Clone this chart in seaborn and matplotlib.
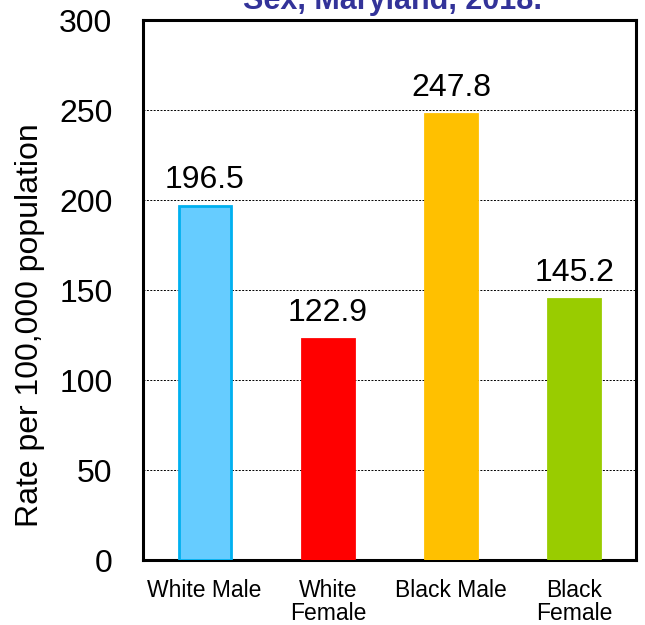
import matplotlib
matplotlib.use("Agg")
import matplotlib.pyplot as plt
import seaborn as sns
import pandas as pd

categories = ["White Male", "White\nFemale", "Black Male", "Black\nFemale"]
values = [196.5, 122.9, 247.8, 145.2]
value_labels = ["196.5", "122.9", "247.8", "145.2"]
colors = ["#66CCFF", "#FF0000", "#FFC000", "#99CC00"]
edge_colors = ["#00B0F0", "#FF0000", "#FFC000", "#99CC00"]
yticks = [0, 50, 100, 150, 200, 250, 300]

sns.set_style("white")
plt.rcParams["font.family"] = ["Liberation Sans", "DejaVu Sans"]
plt.rcParams["text.color"] = "black"
plt.rcParams["xtick.color"] = "black"
plt.rcParams["ytick.color"] = "black"
plt.rcParams["axes.labelcolor"] = "black"

df = pd.DataFrame({"cat": categories, "val": values})

fig = plt.figure(figsize=(6.45, 6.25), dpi=100)
ax = fig.add_axes([143/645, 1-560/625, (636-143)/645, (560-20)/625])

sns.barplot(data=df, x="cat", y="val", hue="cat", palette=colors, legend=False,
            width=0.42, ax=ax, saturation=1)
for patch, ec in zip(ax.patches, edge_colors):
    patch.set_edgecolor(ec)
    patch.set_linewidth(2)
    patch.set_zorder(3)

for i, (v, lab) in enumerate(zip(values, value_labels)):
    ax.text(i, v + 10, lab, ha="center", va="baseline", fontsize=23, color="black")

ax.set_ylim(0, 300)
ax.set_yticks(yticks)
ax.set_yticklabels([str(t) for t in yticks], fontsize=23)
ax.set_xlim(-0.5, 3.5)
ax.tick_params(axis="x", labelsize=16.5, length=0, pad=14)
ax.tick_params(axis="y", length=0, pad=22)
for lab in ax.get_xticklabels():
    lab.set_linespacing(0.95)
ax.set_xlabel("")
ax.set_ylabel("Rate per 100,000 population", fontsize=23)
ax.yaxis.label.set_va("center")
ax.yaxis.set_label_coords((30 - 143) / 493, (560 - 325) / 540)

for t in yticks[1:-1]:
    ax.axhline(t, color="black", linestyle=(0, (2, 1.5)), linewidth=0.7, zorder=1)

for s in ax.spines.values():
    s.set_color("black")
    s.set_linewidth(2.2)
    s.set_visible(True)

fig.text(393/645, 1 - 9/625, "Sex, Maryland, 2018.", ha="center", va="baseline",
         fontsize=22, fontweight="bold", color="#333399")

fig.savefig("out.png", dpi=100)
